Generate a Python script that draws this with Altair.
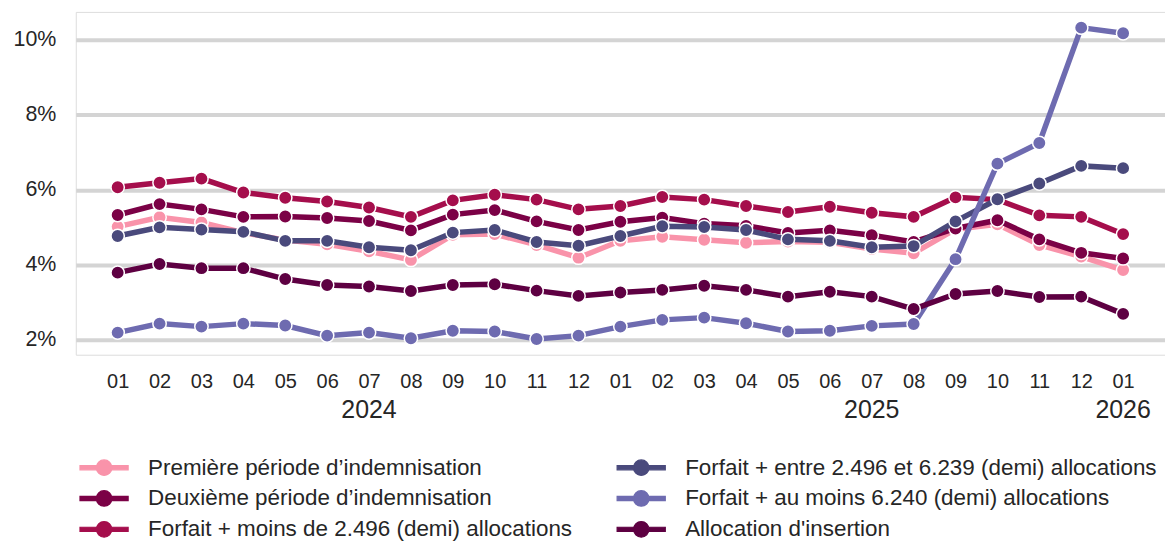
import altair as alt
import pandas as pd

# ---- data -------------------------------------------------------------
periods = [
    "2024-01", "2024-02", "2024-03", "2024-04", "2024-05", "2024-06",
    "2024-07", "2024-08", "2024-09", "2024-10", "2024-11", "2024-12",
    "2025-01", "2025-02", "2025-03", "2025-04", "2025-05", "2025-06",
    "2025-07", "2025-08", "2025-09", "2025-10", "2025-11", "2025-12",
    "2026-01",
]
year_periods = ["2024-07", "2025-07", "2026-01"]
year_labels = ["2024", "2025", "2026"]

series_names = [
    "Première période d’indemnisation",
    "Deuxième période d’indemnisation",
    "Forfait + moins de 2.496 (demi) allocations",
    "Forfait + entre 2.496 et 6.239 (demi) allocations",
    "Forfait + au moins 6.240 (demi) allocations",
    "Allocation d'insertion",
]
series_colors = ["#F993AA", "#7B0146", "#A50E4C", "#4A4A7C", "#6E6BB0", "#5E0042"]

premiere = [5.02, 5.27, 5.13, 4.86, 4.66, 4.55, 4.36, 4.13, 4.80, 4.82, 4.53, 4.19,
            4.64, 4.75, 4.67, 4.59, 4.62, 4.60, 4.42, 4.31, 4.95, 5.08, 4.53, 4.22, 3.86]
deuxieme = [5.33, 5.62, 5.48, 5.28, 5.29, 5.25, 5.17, 4.92, 5.34, 5.46, 5.16, 4.93,
            5.15, 5.26, 5.10, 5.04, 4.85, 4.92, 4.79, 4.61, 4.97, 5.19, 4.68, 4.32, 4.17]
forfait_moins = [6.07, 6.19, 6.30, 5.93, 5.79, 5.69, 5.53, 5.28, 5.72, 5.87, 5.74, 5.48,
                 5.57, 5.81, 5.74, 5.57, 5.41, 5.55, 5.39, 5.28, 5.80, 5.74, 5.32, 5.28, 4.82]
forfait_entre = [4.77, 5.00, 4.94, 4.88, 4.64, 4.64, 4.47, 4.39, 4.86, 4.93, 4.61, 4.51,
                 4.77, 5.03, 5.01, 4.93, 4.68, 4.64, 4.47, 4.50, 5.16, 5.75, 6.17, 6.64, 6.58]
forfait_au_moins = [2.19, 2.43, 2.35, 2.43, 2.38, 2.11, 2.19, 2.04, 2.24, 2.22, 2.02, 2.11,
                    2.35, 2.53, 2.59, 2.44, 2.22, 2.24, 2.37, 2.42, 4.15, 6.70, 7.25, 10.33, 10.18]
insertion = [3.79, 4.02, 3.91, 3.91, 3.62, 3.46, 3.42, 3.30, 3.46, 3.48, 3.31, 3.17,
             3.26, 3.33, 3.44, 3.33, 3.15, 3.28, 3.15, 2.82, 3.22, 3.30, 3.14, 3.15, 2.69]

y_ticks = [2, 4, 6, 8, 10]

series_values = [premiere, deuxieme, forfait_moins, forfait_entre, forfait_au_moins, insertion]

rows = []
for name, vals in zip(series_names, series_values):
    for p, v in zip(periods, vals):
        rows.append({"period": p, "series": name, "value": v})
df = pd.DataFrame(rows)
years_df = pd.DataFrame({"period": year_periods, "year": year_labels})

W, H = 1093, 344
FONT = "Liberation Sans"
TXT = "#262626"

# legend symbol: dash - circle - dash (wide path, small nominal size)
legend_symbol = ("M-0.9,-0.27 L1.2,-0.27 L1.2,0.27 L-0.9,0.27 Z "
                 "M3.2,-0.27 L5.3,-0.27 L5.3,0.27 L3.2,0.27 Z "
                 "M3.205,0 A1.0,1.0 0 1,1 1.205,0 A1.0,1.0 0 1,1 3.205,0 Z")

x_enc = alt.X(
    "period:O",
    sort=periods,
    scale=alt.Scale(type="point", padding=1.2),
    axis=alt.Axis(
        title=None, labelExpr="substring(datum.value, 5, 7)", labelAngle=0,
        labelFontSize=20, labelFont=FONT, labelColor=TXT, labelPadding=17,
        ticks=False, domain=False, grid=False,
    ),
)
y_enc = alt.Y(
    "value:Q",
    scale=alt.Scale(domain=[1.6, 10.75], nice=False, zero=False),
    axis=alt.Axis(
        title=None, values=y_ticks, labelExpr="datum.value + '%'",
        labelFontSize=21.5, labelFont=FONT, labelColor=TXT, labelPadding=20,
        ticks=False, domain=False, grid=True, gridColor="#D4D4D4", gridWidth=4,
    ),
)
color_enc = alt.Color(
    "series:N",
    scale=alt.Scale(domain=series_names, range=series_colors),
    legend=alt.Legend(
        title=None, orient="none", legendX=0, legendY=446, columns=2,
        columnPadding=40, rowPadding=8, symbolType=legend_symbol, symbolSize=243,
        symbolStrokeColor="white", symbolStrokeWidth=1.2, labelOffset=50,
        labelFontSize=22.5, labelFont=FONT, labelColor=TXT, labelLimit=700,
    ),
)

base = alt.Chart(df)
layers = []
for name in series_names:
    sub = base.transform_filter(alt.datum.series == name)
    layers.append(sub.mark_line(strokeWidth=5.5).encode(x=x_enc, y=y_enc, color=color_enc))
    layers.append(sub.mark_circle(size=180, opacity=1, stroke="white", strokeWidth=1.5)
                  .encode(x=x_enc, y=y_enc, color=color_enc))

years = alt.Chart(years_df).mark_text(
    fontSize=25, font=FONT, color=TXT, baseline="middle"
).encode(x=x_enc, y=alt.value(H + 55), text="year:N")

chart = alt.layer(*layers, years).properties(
    width=W, height=H
).configure_view(
    stroke="#D4D4D4", strokeWidth=2
).configure(background="white", padding={"left": 4, "right": 0, "top": 3, "bottom": 0})

chart.save("out.html", embed_options={"renderer": "svg", "actions": False})
